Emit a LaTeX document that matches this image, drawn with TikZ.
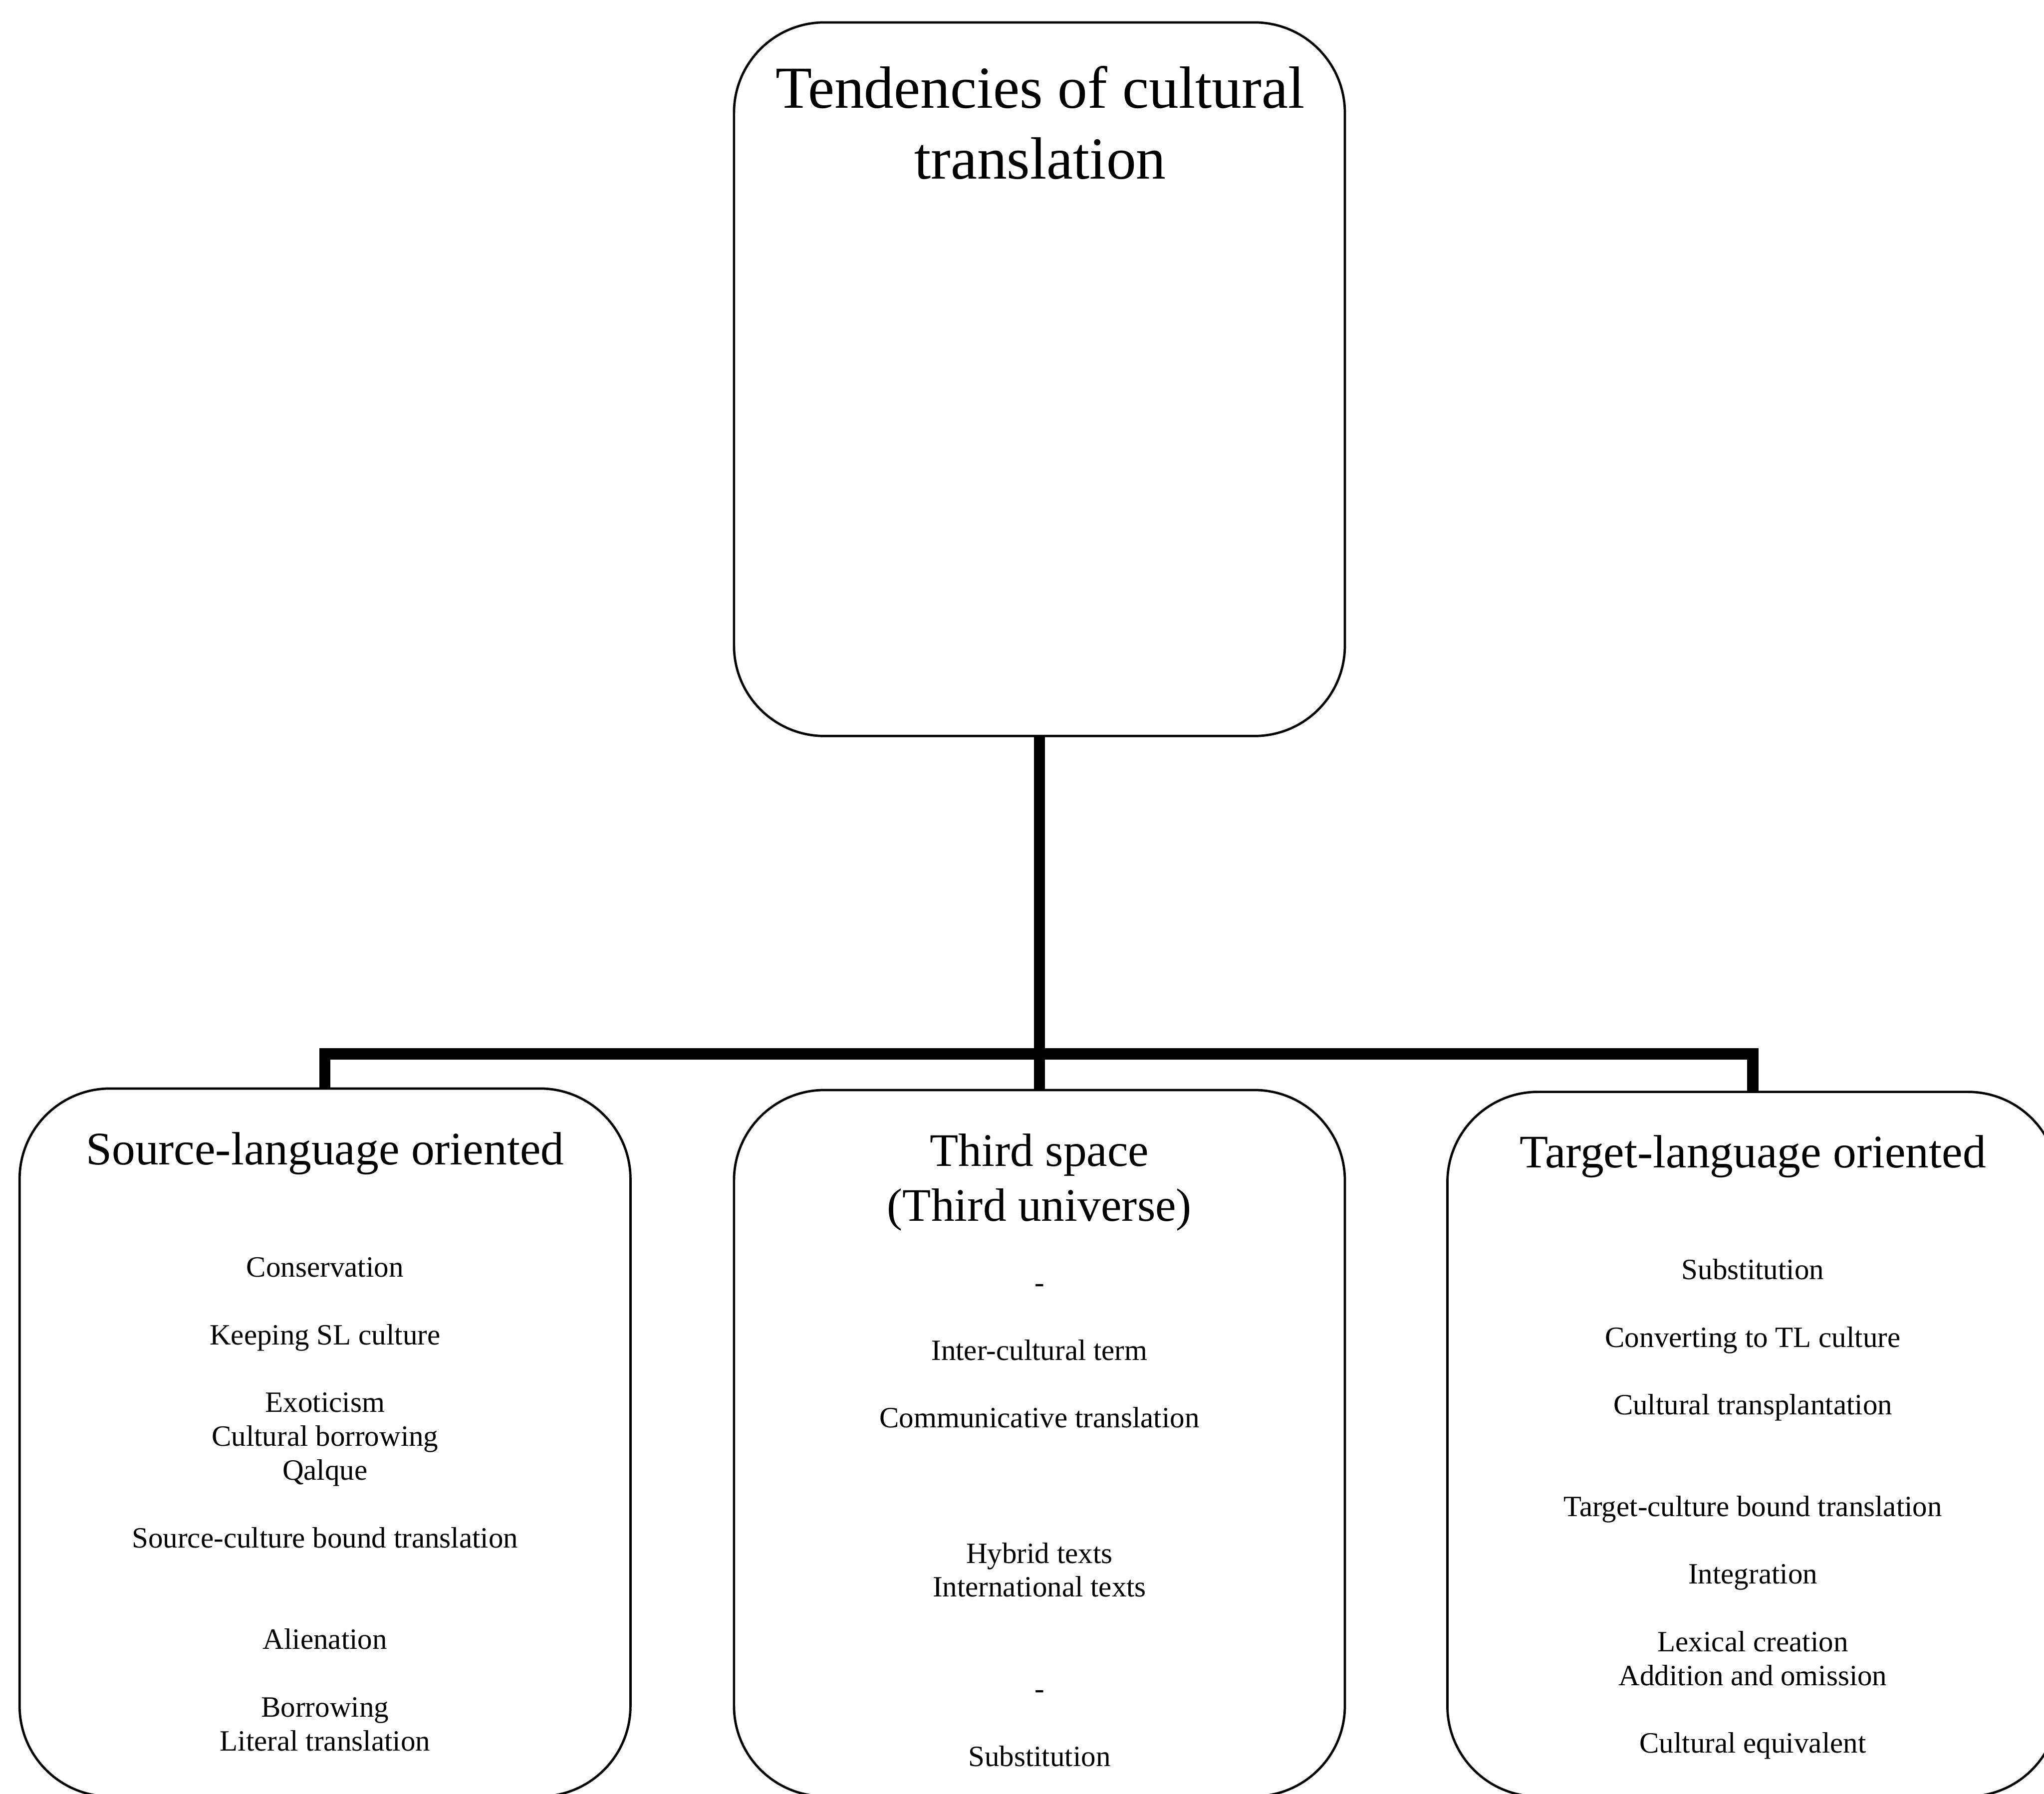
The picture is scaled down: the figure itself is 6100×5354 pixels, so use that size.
\documentclass[tikz,border=0pt]{standalone}
\usepackage{fontspec}
\setmainfont{Liberation Serif}
\begin{document}
\begin{tikzpicture}[x=0.01cm,y=-0.01cm,
  box/.style={draw=black, line width=2pt, rounded corners=2.7cm,
    minimum width=18.22cm, inner sep=0pt, outer sep=0pt},
  conn/.style={draw=black, line width=9.4pt},
  titletext/.style={font=\fontsize{50.6}{60}\selectfont, anchor=base, inner sep=0pt},
  headtext/.style={font=\fontsize{39.6}{47}\selectfont, anchor=base, inner sep=0pt},
  itemtext/.style={font=\fontsize{25}{30}\selectfont, anchor=base, inner sep=0pt}]
\useasboundingbox (0,0) rectangle (6100,5354);
\clip (0,0) rectangle (6100,5354);
\fill[white] (0,0) rectangle (6100,5354);

% boxes
\node[box, minimum height=21.29cm] (root)  at (3102,1132) {};
\node[box, minimum height=21.12cm] (src)   at (970,4306) {};
\node[box, minimum height=21.07cm] (third) at (3102,4308) {};
\node[box, minimum height=21.02cm] (tgt)   at (5231,4311) {};

% connectors
\coordinate (bar) at (3102,3146);
\draw[conn] (root.south) -- (third.north);
\draw[conn] (src.north) -- (src.north |- bar) -- (tgt.north |- bar) -- (tgt.north);

% titles
\node[titletext] (root-1) at (3104,323) {Tendencies of cultural};
\node[titletext] (root-2) at (3104,534) {translation};

\node[headtext] (src-h)    at (970,3477)  {Source-language oriented};
\node[headtext] (third-h1) at (3102,3481) {Third space};
\node[headtext] (third-h2) at (3102,3645) {(Third universe)};
\node[headtext] (tgt-h)    at (5231,3485) {Target-language oriented};

% entries: text / line offset
\foreach \txt/\k [count=\i] in {Conservation/0, Keeping SL culture/2,
    Exoticism/4, Cultural borrowing/5, Qalque/6,
    Source-culture bound translation/8, Alienation/11,
    Borrowing/13, Literal translation/14}
  \node[itemtext] (src-\i) at (970,{3812+101*\k}) {\txt};

\foreach \txt/\k [count=\i] in {-/0, Inter-cultural term/2,
    Communicative translation/4, Hybrid texts/8,
    International texts/9, -/12, Substitution/14}
  \node[itemtext] (third-\i) at (3102,{3858+101*\k}) {\txt};

\foreach \txt/\k [count=\i] in {Substitution/0, Converting to TL culture/2,
    Cultural transplantation/4, Target-culture bound translation/7,
    Integration/9, Lexical creation/11, Addition and omission/12,
    Cultural equivalent/14}
  \node[itemtext] (tgt-\i) at (5231,{3819+101*\k}) {\txt};
\end{tikzpicture}
\end{document}
